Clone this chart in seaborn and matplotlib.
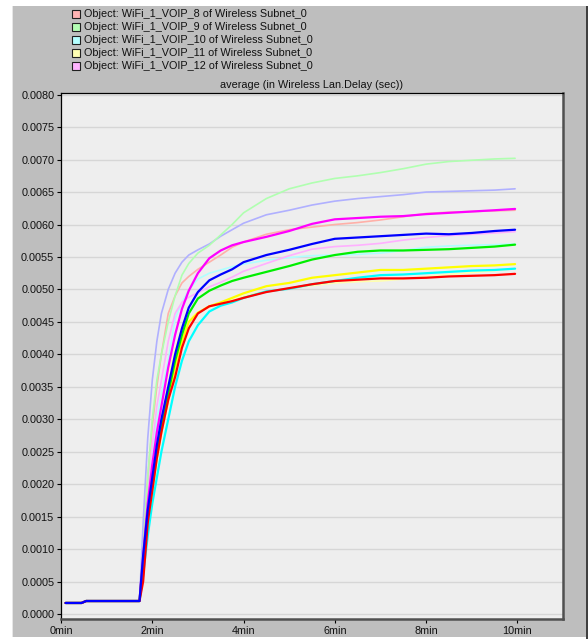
import matplotlib
matplotlib.use("Agg")
import matplotlib.pyplot as plt
from matplotlib.patches import Rectangle
from matplotlib.ticker import FixedLocator, FuncFormatter
import seaborn as sns
import pandas as pd

# Simulation time (minutes) at which each curve is sampled
minutes = [0.1, 0.45, 0.55, 1.72, 1.8, 1.9, 2.0, 2.1, 2.2, 2.35, 2.5, 2.65, 2.8,
           3.0, 3.25, 3.5, 3.75, 4.0, 4.5, 5.0, 5.5, 6.0, 6.5, 7.0, 7.5, 8.0,
           8.5, 9.0, 9.5, 9.95]

# Average Wireless LAN delay (sec), bright curves
voip_red = [0.00017, 0.00017, 0.0002, 0.0002, 0.0005, 0.0014, 0.0019, 0.0024, 0.0028,
            0.0033, 0.00365, 0.0041, 0.0044, 0.00463, 0.00474, 0.00478, 0.00482,
            0.00487, 0.00496, 0.00502, 0.00508, 0.00513, 0.00515, 0.00517, 0.00517,
            0.00518, 0.0052, 0.00521, 0.00522, 0.00524]
voip_green = [0.00017, 0.00017, 0.0002, 0.0002, 0.0008, 0.0015, 0.0020, 0.0025, 0.0029,
              0.0034, 0.0039, 0.0043, 0.00463, 0.00486, 0.00498, 0.00506, 0.00513,
              0.00518, 0.00527, 0.00536, 0.00546, 0.00553, 0.00558, 0.0056, 0.0056,
              0.00561, 0.00562, 0.00564, 0.00566, 0.00569]
voip_cyan = [0.00017, 0.00017, 0.0002, 0.0002, 0.0006, 0.0012, 0.0017, 0.0021, 0.0025,
             0.0030, 0.0035, 0.0039, 0.0042, 0.00445, 0.00466, 0.00475, 0.0048,
             0.00487, 0.00497, 0.00501, 0.00508, 0.00513, 0.00518, 0.00522, 0.00523,
             0.00525, 0.00527, 0.00529, 0.0053, 0.00532]
voip_yellow = [0.00017, 0.00017, 0.0002, 0.0002, 0.0008, 0.0014, 0.0019, 0.0024, 0.0028,
               0.0033, 0.0038, 0.0042, 0.0045, 0.00464, 0.00474, 0.0048, 0.00487,
               0.00494, 0.00505, 0.0051, 0.00518, 0.00522, 0.00526, 0.0053, 0.0053,
               0.00532, 0.00534, 0.00536, 0.00537, 0.00539]
voip_magenta = [0.00017, 0.00017, 0.0002, 0.0002, 0.0009, 0.0017, 0.0023, 0.0028, 0.0032,
                0.0038, 0.0043, 0.0047, 0.00498, 0.00525, 0.00548, 0.0056, 0.00568,
                0.00573, 0.00581, 0.0059, 0.00601, 0.00608, 0.0061, 0.00612, 0.00613,
                0.00616, 0.00618, 0.0062, 0.00622, 0.00624]
voip_blue = [0.00017, 0.00017, 0.0002, 0.0002, 0.0009, 0.0016, 0.0021, 0.0026, 0.0030,
             0.0035, 0.0040, 0.0044, 0.00472, 0.00496, 0.00514, 0.00523, 0.00531,
             0.00542, 0.00553, 0.00561, 0.0057, 0.00578, 0.0058, 0.00582, 0.00584,
             0.00586, 0.00585, 0.00587, 0.0059, 0.00592]

# Pale curves
pale_green = [0.00017, 0.00017, 0.0002, 0.0002, 0.0010, 0.0021, 0.0030, 0.0036, 0.0040,
              0.0045, 0.0049, 0.00522, 0.0054, 0.00556, 0.00568, 0.00584, 0.006,
              0.00618, 0.0064, 0.00655, 0.00664, 0.00671, 0.00675, 0.0068, 0.00686,
              0.00693, 0.00697, 0.00699, 0.00701, 0.00702]
pale_blue = [0.00017, 0.00017, 0.0002, 0.0002, 0.0014, 0.0027, 0.0036, 0.0042, 0.00463,
             0.0050, 0.00525, 0.00542, 0.00553, 0.00561, 0.0057, 0.00582, 0.00592,
             0.00602, 0.00615, 0.00622, 0.0063, 0.00636, 0.0064, 0.00643, 0.00646,
             0.0065, 0.00651, 0.00652, 0.00653, 0.00655]
pale_red = [0.00017, 0.00017, 0.0002, 0.0002, 0.0011, 0.0021, 0.0029, 0.0035, 0.0040,
            0.00463, 0.0049, 0.0051, 0.0052, 0.00531, 0.00542, 0.00553, 0.00565,
            0.00573, 0.00585, 0.00592, 0.00596, 0.006, 0.00603, 0.00607, 0.00612,
            0.00617, 0.00619, 0.0062, 0.00621, 0.00622]
pale_magenta = [0.00017, 0.00017, 0.0002, 0.0002, 0.0010, 0.0019, 0.0026, 0.0032, 0.0036,
                0.0042, 0.00463, 0.0048, 0.00488, 0.00495, 0.00504, 0.00511, 0.00519,
                0.00528, 0.0054, 0.00552, 0.00562, 0.00566, 0.00568, 0.00571, 0.00576,
                0.0058, 0.00583, 0.00585, 0.00587, 0.00589]
pale_cyan = [0.00017, 0.00017, 0.0002, 0.0002, 0.0009, 0.0018, 0.0025, 0.0030, 0.0034,
             0.0039, 0.00455, 0.0048, 0.00499, 0.00516, 0.00525, 0.0053, 0.00535,
             0.00539, 0.00545, 0.00549, 0.00552, 0.00553, 0.00554, 0.00556, 0.0056,
             0.00565, 0.00567, 0.00568, 0.00569, 0.0057]
pale_yellow = [0.00017, 0.00017, 0.0002, 0.0002, 0.0009, 0.0017, 0.0023, 0.0028, 0.0032,
               0.0037, 0.0041, 0.0044, 0.00455, 0.00465, 0.00473, 0.00478, 0.00484,
               0.0049, 0.00497, 0.00502, 0.00506, 0.0051, 0.00512, 0.00513, 0.00516,
               0.0052, 0.00523, 0.00526, 0.00529, 0.00532]

legend_labels = [
    "Object: WiFi_1_VOIP_8 of Wireless Subnet_0",
    "Object: WiFi_1_VOIP_9 of Wireless Subnet_0",
    "Object: WiFi_1_VOIP_10 of Wireless Subnet_0",
    "Object: WiFi_1_VOIP_11 of Wireless Subnet_0",
    "Object: WiFi_1_VOIP_12 of Wireless Subnet_0",
]
legend_colors = ["#ffb4b4", "#b4ffb4", "#b4ffff", "#ffffb4", "#ffb4ff"]

x_ticks = [0, 2, 4, 6, 8, 10]
x_tick_labels = ["0min", "2min", "4min", "6min", "8min", "10min"]
y_ticks = [i * 0.0005 for i in range(17)]
title = "average (in Wireless Lan.Delay (sec))"

pale = {
    "pale_yellow": (pale_yellow, "#ffffb0"),
    "pale_cyan": (pale_cyan, "#b0ffff"),
    "pale_magenta": (pale_magenta, "#ffb0ff"),
    "pale_red": (pale_red, "#ffb0a8"),
    "pale_blue": (pale_blue, "#b0b0ff"),
    "pale_green": (pale_green, "#b0ffb0"),
}
bright = {
    "yellow": (voip_yellow, "#ffff00"),
    "cyan": (voip_cyan, "#00ffff"),
    "green": (voip_green, "#00ee00"),
    "magenta": (voip_magenta, "#ff00ff"),
    "red": (voip_red, "#ff0000"),
    "blue": (voip_blue, "#0000ff"),
}


def long_frame(group):
    rows = []
    for name, (vals, _) in group.items():
        for t, v in zip(minutes, vals):
            rows.append({"minutes": t, "delay": v, "series": name})
    return pd.DataFrame(rows)


sns.set_style("white")
plt.rcParams["font.family"] = ["Liberation Sans", "DejaVu Sans"]

W, H = 588, 639
fig = plt.figure(figsize=(W / 100, H / 100), dpi=100, facecolor="white")

# Window panel behind the chart
fig.patches.append(Rectangle((12 / W, 1 - 637 / H), (586 - 12) / W, (637 - 6) / H,
                             transform=fig.transFigure, facecolor="#bebebe",
                             edgecolor="none", zorder=-3))
fig.patches.append(Rectangle((12 / W, 1 - 637 / H), 1.5 / W, (637 - 6) / H,
                             transform=fig.transFigure, facecolor="#e6e6e6",
                             edgecolor="none", zorder=-2))
fig.patches.append(Rectangle((586 / W, 0), 2 / W, 1 - 6 / H,
                             transform=fig.transFigure, facecolor="#404040",
                             edgecolor="none", zorder=-2))

ax = fig.add_axes([61 / W, 1 - 619 / H, (563 - 61) / W, (619 - 93) / H])
ax.set_zorder(1)
ax.set_facecolor("#eeeeee")

sns.lineplot(data=long_frame(pale), x="minutes", y="delay", hue="series",
             palette={k: c for k, (_, c) in pale.items()}, linewidth=1.2,
             estimator=None, sort=False, legend=False, ax=ax)
sns.lineplot(data=long_frame(bright), x="minutes", y="delay", hue="series",
             palette={k: c for k, (_, c) in bright.items()}, linewidth=1.6,
             estimator=None, sort=False, legend=False, ax=ax)

ax.set_xlim(0, 11.0)
ax.set_ylim(-0.000077, 0.008026)
ax.xaxis.set_major_locator(FixedLocator(x_ticks))
ax.set_xticklabels(x_tick_labels)
ax.yaxis.set_major_locator(FixedLocator(y_ticks))
ax.yaxis.set_major_formatter(FuncFormatter(lambda v, p: f"{v:.4f}"))
ax.set_xlabel("")
ax.set_ylabel("")
ax.tick_params(axis="both", direction="out", length=3, width=0.8, color="black",
               labelsize=7.8, labelcolor="#111111", pad=1.8, left=True, bottom=True)
ax.grid(axis="y", color="#d6d6d6", linewidth=1.0)
ax.grid(axis="x", visible=False)
ax.set_axisbelow(True)

for side in ("left", "top"):
    ax.spines[side].set_color("black")
    ax.spines[side].set_linewidth(0.9)
for side in ("right", "bottom"):
    ax.spines[side].set_color("#505050")
    ax.spines[side].set_linewidth(1.8)
for s in ax.spines.values():
    s.set_visible(True)

fig.text(311 / W, 1 - 85 / H, title, ha="center", va="center", fontsize=7.8,
         color="#111111")

# Legend rows: small colour box followed by the series name
row_y = [14, 27, 40, 53, 66]
for yy, label, col in zip(row_y, legend_labels, legend_colors):
    fig.patches.append(Rectangle((72 / W, 1 - (yy + 4) / H), 8 / W, 8 / H,
                                 transform=fig.transFigure, facecolor=col,
                                 edgecolor="#202020", linewidth=0.8, zorder=3))
    fig.text(84 / W, 1 - yy / H, label, ha="left", va="center", fontsize=7.8,
             color="#111111")

fig.savefig("out.png", dpi=100, facecolor=fig.get_facecolor())
